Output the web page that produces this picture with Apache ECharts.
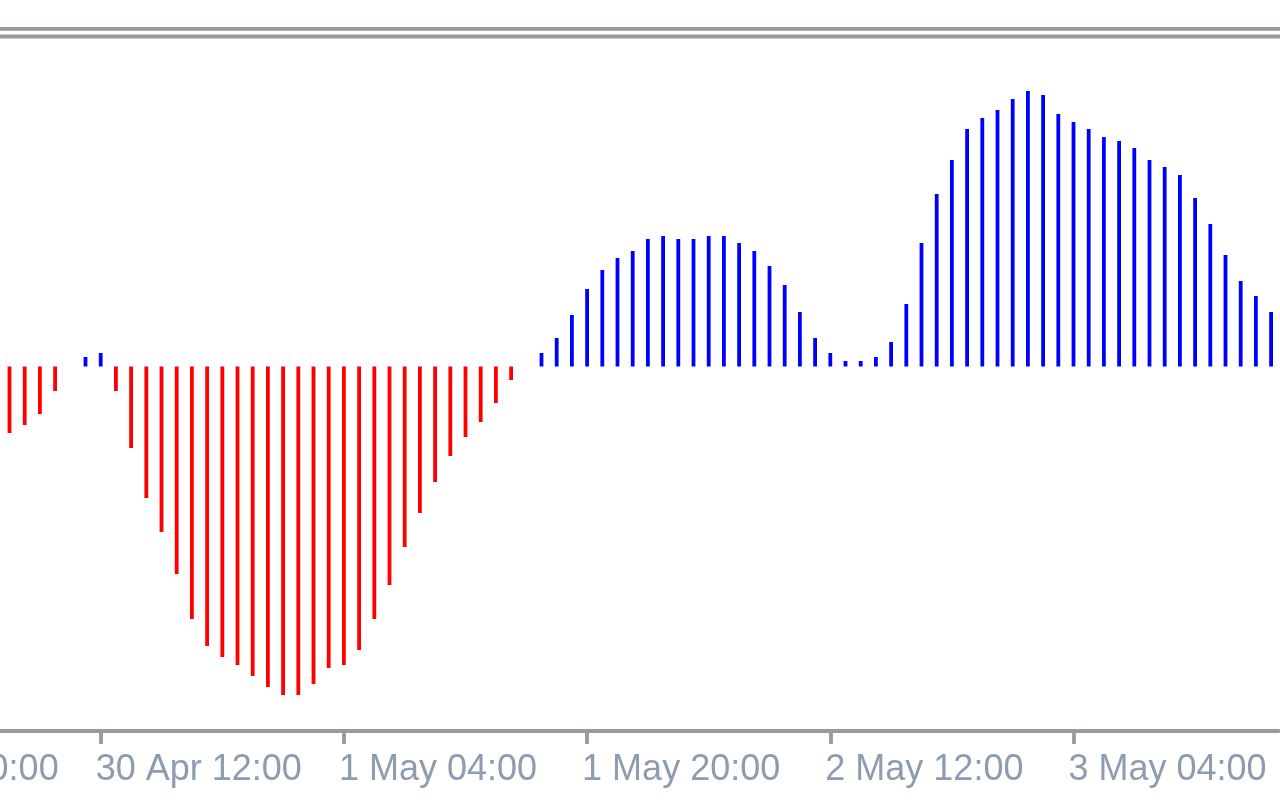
<!DOCTYPE html>
<html>
<head>
<meta charset="utf-8">
<script src="https://cdn.jsdelivr.net/npm/echarts@6/dist/echarts.min.js"></script>
<style>
html,body{margin:0;padding:0;background:#fff;}
#chart{width:1280px;height:800px;}
</style>
</head>
<body>
<div id="chart"></div>
<script>
// Hourly bars (H1). First visible bar is 30 Apr 06:00.
const months = ['Jan','Feb','Mar','Apr','May','Jun','Jul','Aug','Sep','Oct','Nov','Dec'];
const firstHour = Date.UTC(2019, 3, 29, 20); // 29 Apr 20:00 (off-screen, left)
const hiddenBars = 10;                       // bars left of the visible area
const tickLabels = ['29 Apr 20:00', '30 Apr 12:00', '1 May 04:00', '1 May 20:00', '2 May 12:00', '3 May 04:00'];

// Histogram values (oscillator units), one per visible hour
const values = [
  -66.5, -58.5, -47.5, -24.5, 0, 9.5, 13.5, -24.5, -81.5, -131.5,
  -165.5, -207.5, -252.5, -279.5, -290.5, -298.5, -309.5, -320.5, -328.5, -328.5,
  -317.5, -301.5, -298.5, -283.5, -252.5, -218.5, -180.5, -146.5, -115.5, -89.5,
  -70.5, -55.5, -36.5, -13.5, 0, 13.5, 28.5, 51.5, 77.5, 96.5,
  108.5, 115.5, 127.5, 130.5, 127.5, 127.5, 130.5, 130.5, 123.5, 115.5,
  100.5, 81.5, 54.5, 28.5, 13.5, 5.5, 5.5, 9.5, 24.5, 62.5,
  123.5, 172.5, 206.5, 237.5, 248.5, 256.5, 267.5, 275.5, 271.5, 252.5,
  244.5, 237.5, 229.5, 225.5, 218.5, 206.5, 199.5, 191.5, 168.5, 142.5,
  111.5, 85.5, 70.5, 54.5
];

const totalBars = hiddenBars + values.length;
const categories = [];
for (let i = 0; i < totalBars; i++) {
  const d = new Date(firstHour + i * 3600000);
  const hh = String(d.getUTCHours()).padStart(2, '0');
  categories.push(d.getUTCDate() + ' ' + months[d.getUTCMonth()] + ' ' + hh + ':00');
}
const seriesData = new Array(hiddenBars).fill(null).concat(values);

const axisGray = '#979ba1';
const step = 15.2;
const chart = echarts.init(document.getElementById('chart'), null, {renderer: 'canvas'});
chart.setOption({
  animation: false,
  backgroundColor: '#ffffff',
  grid: {
    left: 1.9 - hiddenBars * step,
    width: totalBars * step,
    top: 40,
    bottom: 69,
    containLabel: false,
    outerBoundsMode: 'none'
  },
  xAxis: {
    type: 'category',
    data: categories,
    boundaryGap: true,
    axisLine: {show: true, onZero: false, lineStyle: {color: axisGray, width: 3.8}},
    axisTick: {
      show: true,
      alignWithLabel: true,
      length: 13,
      interval: (idx, val) => tickLabels.includes(val),
      lineStyle: {color: axisGray, width: 3.8}
    },
    axisLabel: {
      show: true,
      interval: (idx, val) => tickLabels.includes(val),
      align: 'left',
      margin: 21,
      padding: [0, 0, 0, -5],
      color: '#8e9cb0',
      fontFamily: 'Liberation Sans',
      fontSize: 36,
      lineHeight: 36
    },
    splitLine: {show: false}
  },
  yAxis: {
    type: 'value',
    min: -364.5,
    max: 326.5,
    show: false,
    splitLine: {show: false}
  },
  series: [{
    type: 'bar',
    data: seriesData,
    barWidth: 3.8,
    itemStyle: {
      color: p => (p.value < 0 ? '#ff0000' : '#0000ff')
    }
  }],
  graphic: [
    {type: 'rect', left: 0, top: 27, shape: {width: 1280, height: 3.8}, style: {fill: axisGray}, silent: true},
    {type: 'rect', left: 0, top: 34.6, shape: {width: 1280, height: 3.8}, style: {fill: axisGray}, silent: true}
  ]
});
</script>
</body>
</html>
